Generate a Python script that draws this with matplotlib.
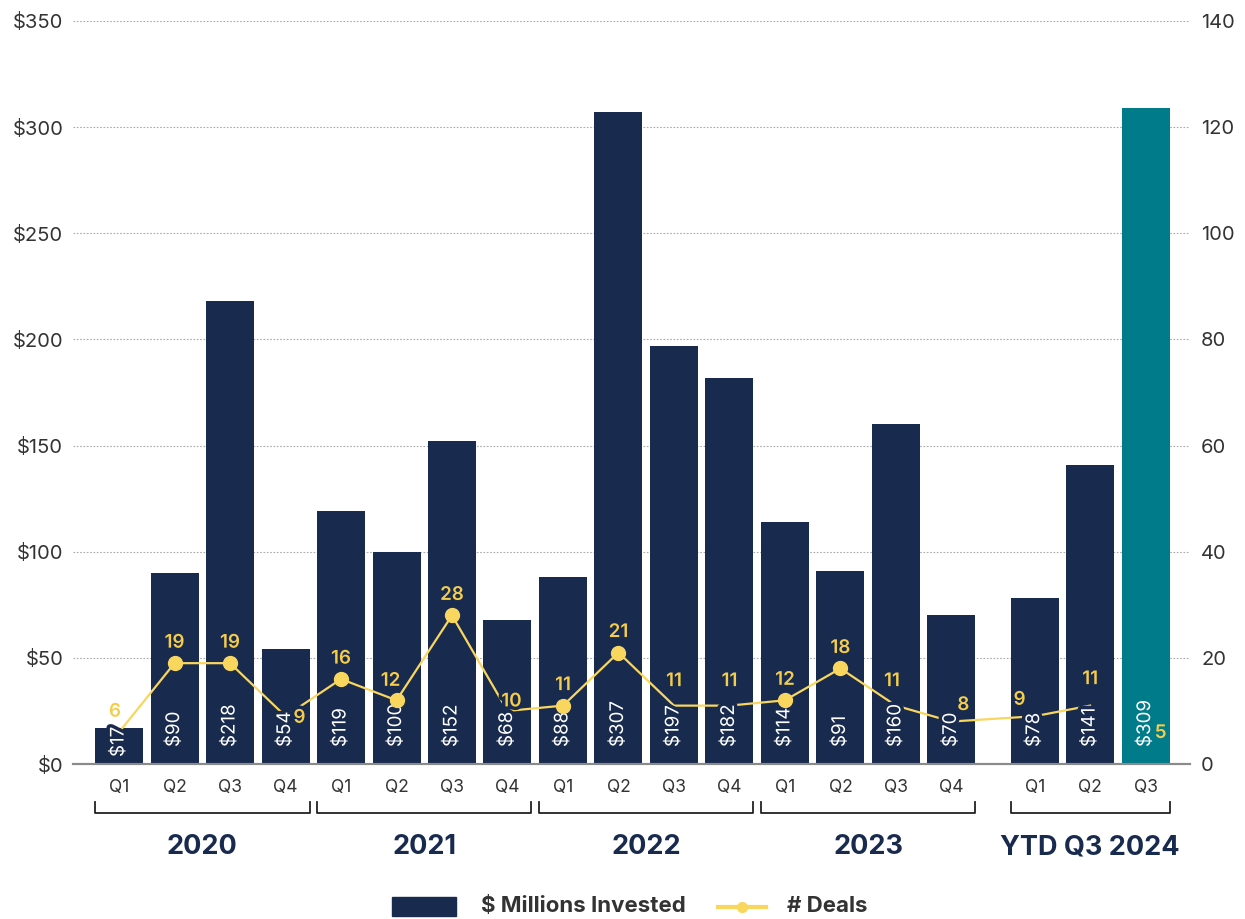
import numpy as np
import matplotlib
matplotlib.use("Agg")
import matplotlib.pyplot as plt
import matplotlib.patheffects as pe
from matplotlib.patches import Rectangle
from matplotlib.lines import Line2D
from matplotlib.transforms import blended_transform_factory

plt.rcParams['font.family'] = ['Inter', 'DejaVu Sans']

# ---- data ----
years = ["2020", "2021", "2022", "2023", "YTD Q3 2024"]
quarters = ["Q1", "Q2", "Q3", "Q4",
            "Q1", "Q2", "Q3", "Q4",
            "Q1", "Q2", "Q3", "Q4",
            "Q1", "Q2", "Q3", "Q4",
            "Q1", "Q2", "Q3"]
invested = [17, 90, 218, 54,
            119, 100, 152, 68,
            88, 307, 197, 182,
            114, 91, 160, 70,
            78, 141, 309]
deals = [6, 19, 19, 9,
         16, 12, 28, 10,
         11, 21, 11, 11,
         12, 18, 11, 8,
         9, 11, 5]

NAVY = "#182A4E"
TEAL = "#007B8A"
YELLOW = "#F9D65E"
YELLOW_TXT = "#F6CD4A"
GREY_TXT = "#333333"

# x positions: quarters side by side, half-slot gap before the partial year
group_sizes = [4, 4, 4, 4, 3]
x = []
start = 0.0
for gi, n in enumerate(group_sizes):
    if gi == len(group_sizes) - 1:
        start += 0.5
    x.extend(start + np.arange(n))
    start += n
x = np.array(x)
bar_colors = [NAVY] * (len(x) - 1) + [TEAL]

fig = plt.figure(figsize=(12.45, 9.19), dpi=100)
W, H = 1245, 919
ax = fig.add_axes([73 / W, (H - 764) / H, (1190 - 73) / W, (764 - 21) / H])
ax2 = ax.twinx()

bw = 0.865
ax.bar(x, invested, width=bw, color=bar_colors, zorder=2)
ax.set_ylim(0, 350)
ax2.set_ylim(0, 140)
ax.set_xlim(-0.83, 19.3)

ax.set_yticks(np.arange(0, 351, 50))
ax.set_yticklabels([f"${v}" for v in range(0, 351, 50)])
ax2.set_yticks(np.arange(0, 141, 20))
ax.yaxis.grid(True, linestyle=(0, (1.5, 1.5)), color="#AAAAAA", linewidth=0.8)
ax.set_axisbelow(True)

for a in (ax, ax2):
    for s in ("top", "left", "right"):
        a.spines[s].set_visible(False)
    a.spines["bottom"].set_color("#8A8A8A")
    a.spines["bottom"].set_linewidth(1.5)
ax.tick_params(axis="y", length=0, pad=7, labelsize=14.5, labelcolor=GREY_TXT)
ax2.tick_params(axis="y", length=0, pad=8, labelsize=14.5, labelcolor=GREY_TXT)
ax.set_xticks(x)
ax.set_xticklabels(quarters)
ax.tick_params(axis="x", length=0, pad=11, labelsize=12.5, labelcolor=GREY_TXT)

# deals line (connects through the second quarter of the partial year)
n_line = len(x) - 1
ax2.plot(x[:n_line], deals[:n_line], color=YELLOW, linewidth=1.6, zorder=3)
marked = [1, 2, 4, 5, 6, 8, 9, 12, 13]
ax2.plot(x[marked], np.array(deals)[marked], linestyle="none", marker="o",
         markersize=10, color=YELLOW, zorder=5)

# value labels inside bars
for xi, v, c in zip(x, invested, bar_colors):
    base = 3.3 if v < 40 else 8
    ax2.text(xi, base, f"${v}", transform=ax.transData, rotation=90,
             ha="center", va="bottom", color="white", fontsize=13.5,
             zorder=4,
             path_effects=[pe.withStroke(linewidth=5, foreground=c)])

# deal labels (offsets in pixels)
offsets = {0: (-4, 20), 3: (14, -2), 7: (4, 9), 10: (0, 24), 11: (0, 24),
           14: (-4, 24), 15: (12, 16), 16: (-15, 16), 17: (0, 26), 18: (15, 4),
           5: (-6, 19)}
px_per_unit = 743 / 140
for i, (xi, d) in enumerate(zip(x, deals)):
    dx, dy = offsets.get(i, (0, 20))
    label_units = d + dy / px_per_unit
    bg = bar_colors[i] if invested[i] * 0.4 > label_units + 1.5 else "white"
    ax2.annotate(str(d), (xi, d), xytext=(dx * 0.72, dy * 0.72),
                 textcoords="offset points", ha="center", va="center",
                 color=YELLOW_TXT, fontsize=13.5, fontweight="semibold",
                 zorder=6,
                 path_effects=[pe.withStroke(linewidth=5, foreground=bg)])

# year brackets and labels
tr = blended_transform_factory(ax.transData, ax.transAxes)
y_top, y_bot, y_txt = -38 / 743, -49 / 743, -83 / 743
i0 = 0
for name, n in zip(years, group_sizes):
    left = x[i0] - bw / 2
    right = x[i0 + n - 1] + bw / 2
    ax.add_line(Line2D([left, left, right, right], [y_top, y_bot, y_bot, y_top],
                       transform=tr, color="#222222", linewidth=1.3,
                       clip_on=False))
    ax.text((left + right) / 2, y_txt, name, transform=tr, ha="center",
            va="center", fontsize=19.5, fontweight="bold", color=NAVY)
    i0 += n

# legend
fig.add_artist(Rectangle((392 / W, 3 / H), 64 / W, 19 / H,
                         transform=fig.transFigure, color=NAVY))
fig.text(481 / W, 12.5 / H, "$ Millions Invested", ha="left", va="center",
         fontsize=16, fontweight="bold", color=GREY_TXT)
fig.add_artist(Line2D([718 / W, 766 / W], [12 / H, 12 / H],
                      transform=fig.transFigure, color=YELLOW, linewidth=3))
fig.add_artist(Line2D([742 / W], [12 / H], transform=fig.transFigure,
                      color=YELLOW, marker="o", markersize=7))
fig.text(787 / W, 12.5 / H, "# Deals", ha="left", va="center",
         fontsize=16, fontweight="bold", color=GREY_TXT)

fig.savefig("out.png", dpi=100)
